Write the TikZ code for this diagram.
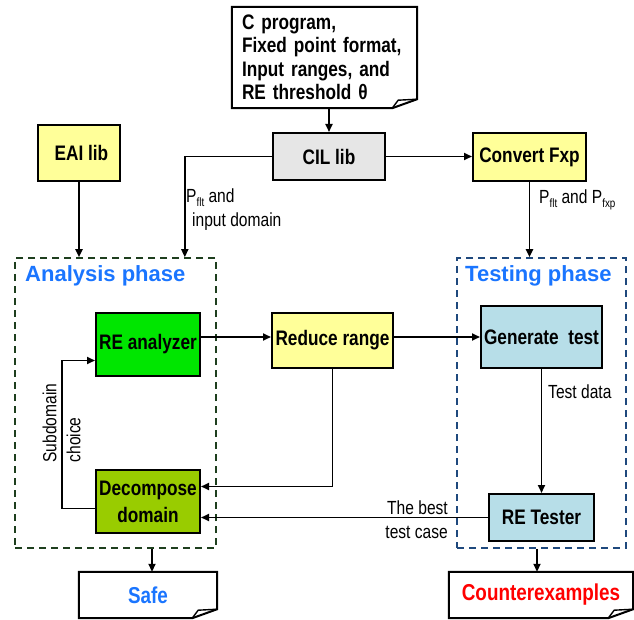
\documentclass[tikz,border=0pt]{standalone}
\usepackage{fontspec}
\setmainfont{Liberation Sans}[FakeStretch=0.82]
\newfontfamily\titlefont{Liberation Sans}
\usetikzlibrary{arrows.meta}

\definecolor{boxyellow}{HTML}{FFFF99}
\definecolor{boxgray}{HTML}{E6E6E6}
\definecolor{boxgreen}{HTML}{00E600}
\definecolor{boxolive}{HTML}{99CC00}
\definecolor{boxcyan}{HTML}{B7DEE8}
\definecolor{framegreen}{HTML}{1E3F1E}
\definecolor{frameblue}{HTML}{1F497D}
\definecolor{titleblue}{HTML}{1A75FF}

\newcommand{\lowtxt}[1]{\raisebox{-4pt}{\fontsize{12}{12}\selectfont #1}}
\newcommand{\notebox}[1]{%
  \draw[line width=2pt] (#1.north west) -- (#1.north east) -- ([yshift=9pt]#1.south east)
    -- ([xshift=-25pt]#1.south east) -- (#1.south west) -- cycle;
  \draw[line width=1.4pt] ([yshift=9pt]#1.south east) -- ([xshift=-19pt,yshift=8pt]#1.south east)
    -- ([xshift=-25pt]#1.south east);}

\tikzset{
  stage/.style={draw, line width=2pt, font=\fontsize{21}{23}\selectfont\bfseries, align=center, inner sep=2pt},
  phasebox/.style={draw, line width=1.6pt, dash pattern=on 7pt off 5pt},
  arr/.style={line width=1.8pt, -{Triangle[length=8pt,width=7pt]}},
  lbl/.style={font=\fontsize{19}{24}\selectfont, inner sep=0pt},
  phase/.style={font=\titlefont\fontsize{22}{24}\selectfont\bfseries, text=titleblue, inner sep=0pt},
  notetext/.style={font=\fontsize{21}{23.5}\selectfont\bfseries, inner sep=0pt},
  result/.style={font=\fontsize{23}{25}\selectfont\bfseries, inner sep=0pt}
}

\begin{document}
\begin{tikzpicture}[x=1pt,y=-1pt]
\useasboundingbox (0,0) rectangle (634,620);

\node[notetext, minimum width=185pt, minimum height=101pt, text width=165pt, align=left] (inputs) at (324.5,57.5)
  {C program,\\Fixed point format,\\Input ranges, and\\RE threshold θ};
\notebox{inputs}

\node[stage, fill=boxyellow, minimum width=82pt, minimum height=56pt] (eai) at (79,153) {~EAI lib};
\node[stage, fill=boxgray, minimum width=112pt, minimum height=47pt] (cil) at (329,156.5) {CIL lib};
\node[stage, fill=boxyellow, minimum width=113pt, minimum height=48pt] (conv) at (529.5,157) {Convert Fxp};

\node[phasebox, draw=framegreen, minimum width=201pt, minimum height=290pt] (analysis) at (115.5,403) {};
\node[phasebox, draw=frameblue, minimum width=169pt, minimum height=290pt] (testing) at (541.5,403) {};
\node[phase, anchor=west] (antitle) at (25,276) {Analysis phase};
\node[phase, anchor=west] (tetitle) at (465,276) {Testing phase};

\node[stage, fill=boxgreen, minimum width=104pt, minimum height=63pt] (rean) at (148,344.5) {RE analyzer};
\node[stage, fill=boxolive, minimum width=104pt, minimum height=63pt, font=\fontsize{21}{27}\selectfont\bfseries] (decomp) at (148,501.5) {Decompose\\domain};
\node[stage, fill=boxyellow, minimum width=121pt, minimum height=55pt] (reduce) at (332.5,340.5) {Reduce range};
\node[stage, fill=boxcyan, minimum width=121pt, minimum height=62pt] (gen) at (541.5,337) {Generate~~test};
\node[stage, fill=boxcyan, minimum width=105pt, minimum height=47pt] (tester) at (541.5,517.5) {RE Tester};

\node[result, text=titleblue, minimum width=138pt, minimum height=46pt] (safe) at (148,595) {Safe};
\node[result, text=red, minimum width=184pt, minimum height=46pt] (cex) at (541,595) {Counterexamples};
\notebox{safe}
\notebox{cex}

\draw[arr] (cil.north |- inputs.south) -- (cil.north);
\draw[arr] (cil.east) -- (cil.east -| conv.west);
\draw[arr] (cil.west) -| ([xshift=-32pt]analysis.north east);
\draw[arr] (eai.south) -- (eai.south |- analysis.north);
\draw[arr] (conv.south) -- (conv.south |- testing.north);
\draw[arr] (rean.east |- gen.west) -- (reduce.west |- gen.west);
\draw[arr] (reduce.east |- gen.west) -- (gen.west);
\draw[arr] (reduce.south) |- ([yshift=15pt]decomp.east);
\draw[arr] (gen.south) -- (tester.north);
\draw[arr] (tester.west) -- (tester.west -| decomp.east);
\draw[arr] ([yshift=-7pt]decomp.west) -- ++(-33,0) |- ([yshift=-16pt]rean.west);
\draw[arr] ([xshift=4pt]safe.north |- analysis.south) -- ([xshift=4pt]safe.north);
\draw[arr] ([xshift=-4pt]cex.north |- testing.south) -- ([xshift=-4pt]cex.north);

\node[lbl, anchor=north west, align=left] (pin) at (186,189) {P\lowtxt{flt} and\\\hspace{6pt}input domain};
\node[lbl, anchor=west] (pfxp) at (539,200) {P\lowtxt{flt} and P\lowtxt{fxp}};
\node[lbl, anchor=west] (tdata) at (548,392) {Test data};
\node[lbl, anchor=east, align=right] (best) at (448,520) {The best\\test case};
\node[lbl, rotate=90, align=left] (choice) at (61.5,423) {Subdomain\\choice};
\end{tikzpicture}
\end{document}
